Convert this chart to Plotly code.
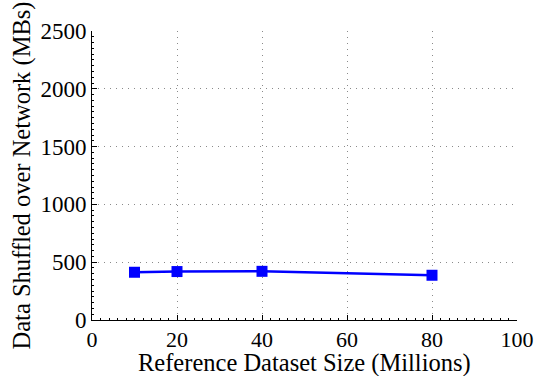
import plotly.graph_objects as go

# Reference dataset size (millions) vs. data shuffled over the network (MB)
dataset_size = [10, 20, 40, 80]
shuffled_mb = [413, 419, 421, 387]

x_ticks = [0, 20, 40, 60, 80, 100]
y_ticks = [0, 500, 1000, 1500, 2000, 2500]

FONT = "Liberation Serif"

fig = go.Figure()
fig.add_trace(go.Scatter(
    x=dataset_size, y=shuffled_mb,
    mode="lines+markers",
    line=dict(color="#0000ff", width=2.5),
    marker=dict(symbol="square", size=11, color="#0000ff"),
    showlegend=False,
))

axis_common = dict(
    showline=True, linecolor="black", linewidth=1,
    ticks="inside", ticklen=5, tickcolor="black",
    showgrid=True, gridcolor="#8a8a8a", griddash="1px,5px", gridwidth=1,
    zeroline=False, mirror=False, automargin=False,
)

fig.update_xaxes(
    range=[0, 100], tickvals=x_ticks,
    tickfont=dict(family=FONT, size=22, color="black"),
    minor=dict(dtick=2, ticks="inside", ticklen=2, tickcolor="black", showgrid=False),
    **axis_common,
)
fig.update_yaxes(
    range=[0, 2500], tickvals=y_ticks,
    tickfont=dict(family=FONT, size=23, color="black"),
    title=dict(text="Data Shuffled over Network (MBs)", font=dict(family=FONT, size=24.5, color="black"), standoff=2),
    minor=dict(dtick=50, ticks="inside", ticklen=2, tickcolor="black", showgrid=False),
    **axis_common,
)

# x-axis title placed just under the tick labels
fig.add_annotation(
    text="Reference Dataset Size (Millions)",
    xref="paper", yref="paper", x=0.5, y=-0.15,
    xanchor="center", yanchor="middle", showarrow=False,
    font=dict(family=FONT, size=24.5, color="black"),
)

fig.update_layout(
    width=543, height=376,
    margin=dict(l=92, r=26, t=31, b=56),
    paper_bgcolor="white", plot_bgcolor="white",
)

fig.write_html("out.html")
